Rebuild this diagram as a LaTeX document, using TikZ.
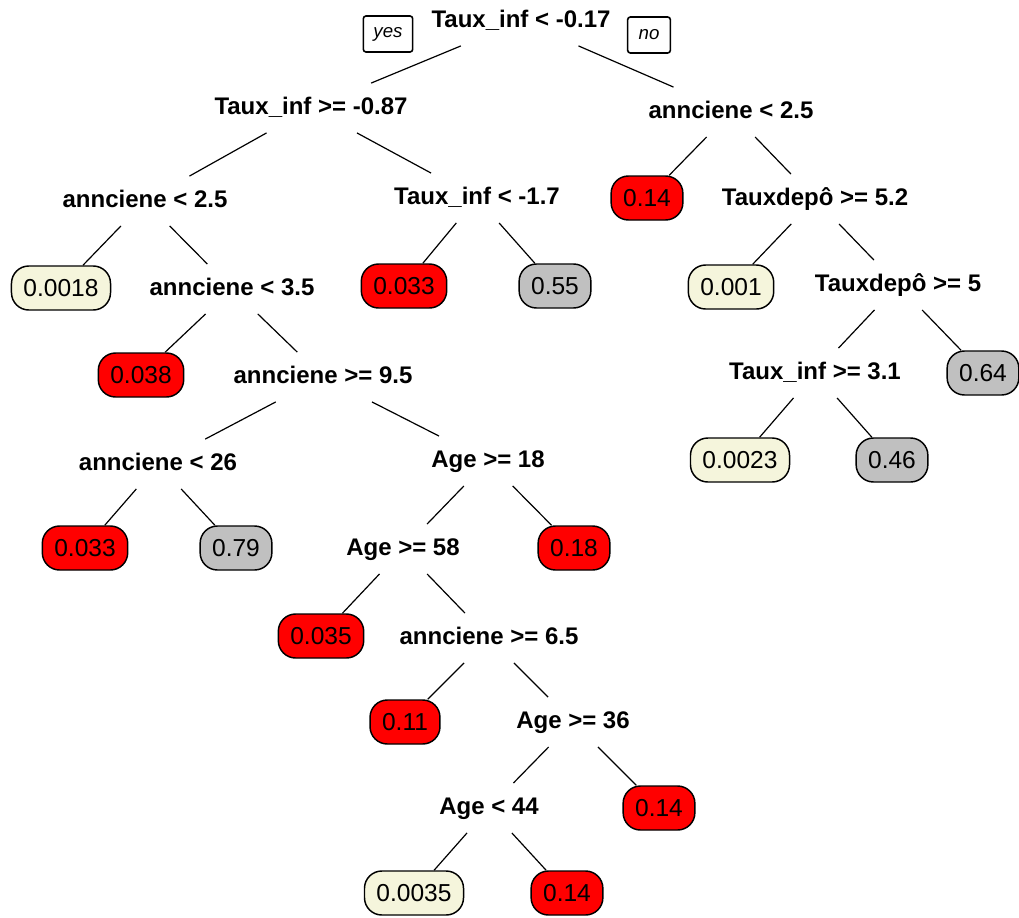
\documentclass[tikz,border=0pt]{standalone}
\usepackage{fontspec}
\setmainfont{Liberation Sans}
\definecolor{leafred}{HTML}{FF0000}
\definecolor{leafgray}{HTML}{C0C0C0}
\definecolor{leafcream}{HTML}{F5F5DC}
\begin{document}
\begin{tikzpicture}[x=0.75pt,y=-0.75pt,
  split/.style={font=\fontsize{18}{21}\selectfont\bfseries, text height=13pt, text depth=3pt, inner xsep=2pt, inner ysep=10.5pt},
  leaf/.style={draw=black, line width=1.1pt, rounded corners=13pt, font=\fontsize{18.4}{21}\selectfont, text height=13pt, text depth=0pt, minimum height=33pt, inner xsep=9pt},
  redleaf/.style={leaf, fill=leafred},
  grayleaf/.style={leaf, fill=leafgray},
  creamleaf/.style={leaf, fill=leafcream},
  yn/.style={draw=black, line width=1.2pt, rounded corners=2pt, font=\fontsize{14}{16}\selectfont\itshape, minimum height=27pt},
  edge/.style={draw=black, line width=0.9pt}]
\useasboundingbox (0,0) rectangle (1019,917);
% split nodes
\node[split] (r)   at (521,21)  {Taux\_inf < -0.17};
\node[split] (l1)  at (311,108) {Taux\_inf >= -0.87};
\node[split] (r1)  at (731,112) {annciene < 2.5};
\node[split] (l2)  at (145,201) {annciene < 2.5};
\node[split] (m2)  at (477,198) {Taux\_inf < -1.7};
\node[split] (r2)  at (815,199) {Tauxdepô >= 5.2};
\node[split] (l3)  at (232,289) {annciene < 3.5};
\node[split] (r3)  at (898,285) {Tauxdepô >= 5};
\node[split] (l4)  at (323,377) {annciene >= 9.5};
\node[split] (r4)  at (815,373) {Taux\_inf >= 3.1};
\node[split] (l5)  at (158,464) {annciene < 26};
\node[split] (m5)  at (488,461) {Age >= 18};
\node[split] (m6)  at (403,549) {Age >= 58};
\node[split] (m7)  at (489,638) {annciene >= 6.5};
\node[split] (m8)  at (573,722) {Age >= 36};
\node[split] (m9)  at (489,808) {Age < 44};
% yes / no
\node[yn, minimum width=37pt] (yes) at (388,34) {yes};
\node[yn, minimum width=32pt] (no)  at (649,35) {no};
% leaves
\node[redleaf]   (f1)  at (647,198) {0.14};
\node[creamleaf] (f2)  at (61,288)  {0.0018};
\node[redleaf]   (f3)  at (404,286) {0.033};
\node[grayleaf]  (f4)  at (555,286) {0.55};
\node[creamleaf] (f5)  at (731,287) {0.001};
\node[redleaf]   (f6)  at (141,375) {0.038};
\node[grayleaf]  (f7)  at (983,373) {0.64};
\node[creamleaf] (f8)  at (740,460) {0.0023};
\node[grayleaf]  (f9)  at (892,460) {0.46};
\node[redleaf]   (f10) at (85,548)  {0.033};
\node[grayleaf]  (f11) at (236,548) {0.79};
\node[redleaf]   (f12) at (574,548) {0.18};
\node[redleaf]   (f13) at (321,636) {0.035};
\node[redleaf]   (f14) at (405,722) {0.11};
\node[redleaf]   (f15) at (659,808) {0.14};
\node[creamleaf] (f16) at (414,893) {0.0035};
\node[redleaf]   (f17) at (567,893) {0.14};
% edges
\draw[edge] (r) -- (l1);
\draw[edge] (r) -- (r1);
\draw[edge] (l1) -- (l2);
\draw[edge] (l1) -- (m2);
\draw[edge] (r1) -- (f1);
\draw[edge] (r1) -- (r2);
\draw[edge] (l2) -- (f2);
\draw[edge] (l2) -- (l3);
\draw[edge] (m2) -- (f3);
\draw[edge] (m2) -- (f4);
\draw[edge] (r2) -- (f5);
\draw[edge] (r2) -- (r3);
\draw[edge] (l3) -- (f6);
\draw[edge] (l3) -- (l4);
\draw[edge] (r3) -- (r4);
\draw[edge] (r3) -- (f7);
\draw[edge] (l4) -- (l5);
\draw[edge] (l4) -- (m5);
\draw[edge] (r4) -- (f8);
\draw[edge] (r4) -- (f9);
\draw[edge] (l5) -- (f10);
\draw[edge] (l5) -- (f11);
\draw[edge] (m5) -- (m6);
\draw[edge] (m5) -- (f12);
\draw[edge] (m6) -- (f13);
\draw[edge] (m6) -- (m7);
\draw[edge] (m7) -- (f14);
\draw[edge] (m7) -- (m8);
\draw[edge] (m8) -- (m9);
\draw[edge] (m8) -- (f15);
\draw[edge] (m9) -- (f16);
\draw[edge] (m9) -- (f17);
\end{tikzpicture}
\end{document}
